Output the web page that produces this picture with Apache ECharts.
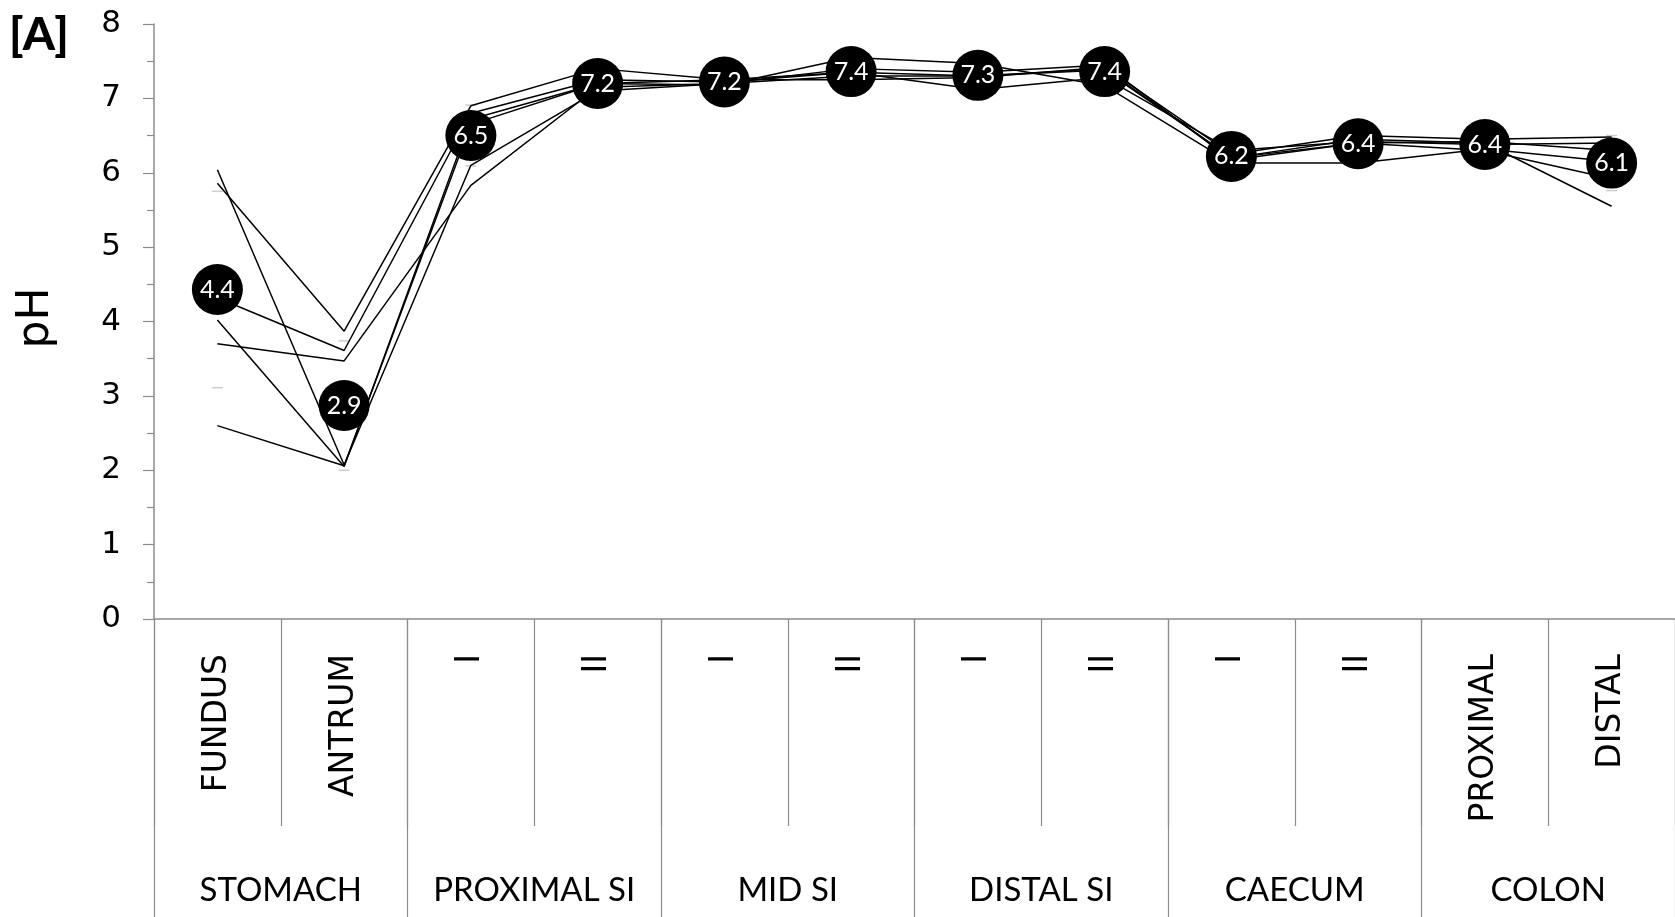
<!DOCTYPE html>
<html>
<head>
<meta charset="utf-8">
<script src="https://cdn.jsdelivr.net/npm/echarts/dist/echarts.min.js"></script>
<style>html,body{margin:0;padding:0;background:#fff;}#chart{width:1675px;height:917px;}</style>
</head>
<body>
<div id="chart"></div>
<script>
// ---- data ----
const categories = ['FUNDUS','ANTRUM','I','II','I','II','I','II','I','II','PROXIMAL','DISTAL'];
const groups = ['STOMACH','PROXIMAL SI','MID SI','DISTAL SI','CAECUM','COLON'];
const meanPH = [4.43, 2.87, 6.50, 7.20, 7.22, 7.36, 7.31, 7.36, 6.22, 6.39, 6.38, 6.13];
const sdPH   = [1.32, 0.87, 0.41, 0.12, 0.04, 0.10, 0.12, 0.10, 0.06, 0.12, 0.05, 0.37];
const subject1 = [6.04, 2.07, 6.10, 7.10, 7.20, 7.30, 7.30, 7.40, 6.20, 6.45, 6.40, 5.55];
const subject2 = [5.86, 3.87, 6.90, 7.40, 7.25, 7.25, 7.28, 7.42, 6.25, 6.50, 6.45, 6.48];
const subject3 = [4.32, 3.61, 6.80, 7.25, 7.22, 7.35, 7.12, 7.28, 6.30, 6.42, 6.38, 6.40];
const subject4 = [4.02, 2.05, 6.72, 7.20, 7.18, 7.55, 7.47, 7.17, 6.13, 6.13, 6.32, 6.15];
const subject5 = [3.70, 3.47, 5.83, 7.15, 7.20, 7.40, 7.35, 7.45, 6.17, 6.40, 6.30, 5.92];
const subject6 = [2.60, 2.06, 6.65, 7.20, 7.25, 7.35, 7.30, 7.38, 6.20, 6.40, 6.42, 6.30];
const subjects = [subject1, subject2, subject3, subject4, subject5, subject6];

const axisGray = '#8c8c8c';
const chart = echarts.init(document.getElementById('chart'), null, {renderer: 'canvas'});

const lineSeries = subjects.map(s => ({
  type: 'line', data: s, symbol: 'none', silent: true, z: 2,
  lineStyle: {color: '#000', width: 1.5}
}));

const option = {
  animation: false,
  grid: {left: 154, top: 24, width: 1526, height: 595, containLabel: false},
  xAxis: [
    {
      type: 'category', data: categories, position: 'bottom', boundaryGap: true,
      axisLine: {show: true, lineStyle: {color: axisGray, width: 1.5}},
      axisTick: {show: true, length: 207, lineStyle: {color: axisGray, width: 1.2}},
      axisLabel: {interval: 0, rotate: 90, margin: 35, color: '#000',
        fontFamily: 'DejaVu Sans', fontSize: 33}
    },
    {
      type: 'category', data: groups, position: 'bottom', boundaryGap: true,
      axisLine: {show: false},
      axisTick: {show: true, length: 300, lineStyle: {color: axisGray, width: 1.2}},
      axisLabel: {interval: 0, margin: 255, color: '#000',
        fontFamily: 'Lato', fontSize: 33}
    }
  ],
  yAxis: {
    type: 'value', min: 0, max: 8, interval: 1,
    axisLine: {show: true, lineStyle: {color: axisGray, width: 1.5}},
    axisTick: {show: true, length: 11, lineStyle: {color: axisGray, width: 1.2}},
    minorTick: {show: true, splitNumber: 2, length: 7, lineStyle: {color: axisGray, width: 1.2}},
    splitLine: {show: false},
    axisLabel: {margin: 33, color: '#000', fontFamily: 'DejaVu Sans', fontSize: 31}
  },
  series: [
    ...lineSeries,
    {
      type: 'scatter', data: meanPH.map((m, i) => m + sdPH[i]), symbol: 'rect',
      symbolSize: [11, 1.5], itemStyle: {color: '#bfbfbf'}, z: 1, silent: true
    },
    {
      type: 'scatter', data: meanPH.map((m, i) => m - sdPH[i]), symbol: 'rect',
      symbolSize: [11, 1.5], itemStyle: {color: '#bfbfbf'}, z: 1, silent: true
    },
    {
      type: 'scatter', data: meanPH, symbol: 'circle', symbolSize: 51, z: 5,
      itemStyle: {color: '#000', opacity: 1},
      label: {show: true, position: 'inside', color: '#fff', fontFamily: 'Lato',
        fontSize: 25, formatter: p => Number(p.value).toFixed(1)}
    }
  ],
  graphic: [
    {type: 'text', left: 9, top: 12,
      style: {text: '[A]', fill: '#000', font: '900 46px Lato'}},
    {type: 'text', x: 37, y: 318, rotation: Math.PI / 2,
      style: {text: 'pH', fill: '#000', font: '44px "DejaVu Sans"',
        align: 'center', verticalAlign: 'middle', textAlign: 'center', textVerticalAlign: 'middle'}}
  ]
};
chart.setOption(option);
</script>
</body>
</html>
